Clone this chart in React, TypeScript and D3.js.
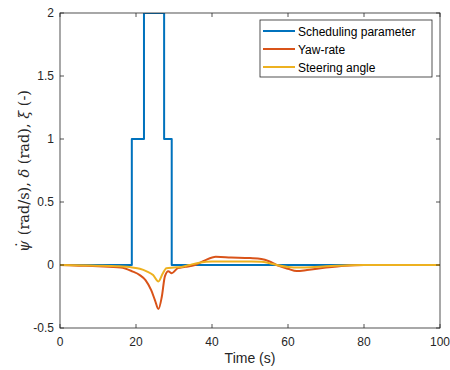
import React from "react";
import * as d3 from "d3";

const schedT = [0, 18.9, 22.1, 27.4, 29.4, 100];
const schedV = [0, 1, 2, 1, 0, 0];

const yawT = [0, 5, 10, 16, 19, 21, 22.5, 24, 25, 25.9, 26.8, 27.6, 28.5, 29.4, 31, 33, 35.5, 38, 41, 45, 50, 53, 55, 57, 60, 62.3, 65, 70, 75, 80, 90, 100];
const yawV = [0, -0.005, -0.01, -0.02, -0.05, -0.08, -0.12, -0.2, -0.28, -0.35, -0.25, -0.09, -0.05, -0.065, -0.025, -0.015, 0, 0.035, 0.065, 0.06, 0.055, 0.048, 0.03, 0, -0.03, -0.048, -0.04, -0.02, -0.005, 0, 0, 0];

const steerT = [0, 10, 15, 19, 21, 22.8, 24.5, 25.9, 27, 28, 30, 32, 34, 37, 40, 45, 50, 53, 55, 57, 60, 63, 66, 70, 75, 80, 100];
const steerV = [0, -0.005, -0.01, -0.02, -0.03, -0.05, -0.08, -0.13, -0.07, -0.025, -0.02, -0.015, 0, 0.02, 0.027, 0.028, 0.027, 0.025, 0.015, 0, -0.015, -0.02, -0.018, -0.01, -0.003, 0, 0];

const xTicks = [0, 20, 40, 60, 80, 100];
const yTicks = [-0.5, 0, 0.5, 1, 1.5, 2];
const seriesNames = ["Scheduling parameter", "Yaw-rate", "Steering angle"];
const colors = ["#0072BD", "#D95319", "#EDB120"];

export default function App() {
  const L = 60, R = 440, T = 13, B = 328;
  const x = d3.scaleLinear().domain([0, 100]).range([L, R]);
  const y = d3.scaleLinear().domain([-0.5, 2]).range([B, T]);
  const mk = (ts: number[], vs: number[]) => ts.map((t, i) => [t, vs[i]] as [number, number]);
  const stepLine = d3.line<[number, number]>().x(d => x(d[0])).y(d => y(d[1])).curve(d3.curveStepAfter);
  const smooth = d3.line<[number, number]>().x(d => x(d[0])).y(d => y(d[1])).curve(d3.curveMonotoneX);
  const tc = "#262626";
  const font = "Liberation Sans, Arial, sans-serif";
  return (
    <svg width={450} height={370} style={{ position: "absolute", left: 0, top: 0, background: "#fff" }}>
      <rect x={0} y={0} width={450} height={370} fill="#fff" />
      <defs>
        <clipPath id="cp"><rect x={L} y={T} width={R - L} height={B - T} /></clipPath>
      </defs>
      <g clipPath="url(#cp)" fill="none" strokeWidth={2} strokeLinejoin="round">
        <path d={stepLine(mk(schedT, schedV)) || ""} stroke={colors[0]} />
        <path d={smooth(mk(yawT, yawV)) || ""} stroke={colors[1]} />
        <path d={smooth(mk(steerT, steerV)) || ""} stroke={colors[2]} />
      </g>
      <rect x={L} y={T} width={R - L} height={B - T} fill="none" stroke={tc} strokeWidth={0.8} />
      {xTicks.map(t => (
        <g key={"x" + t}>
          <line x1={x(t)} x2={x(t)} y1={B} y2={B - 4} stroke={tc} strokeWidth={0.8} />
          <line x1={x(t)} x2={x(t)} y1={T} y2={T + 4} stroke={tc} strokeWidth={0.8} />
          <text x={x(t)} y={346} textAnchor="middle" fontFamily={font} fontSize={12} fill={tc}>{t}</text>
        </g>
      ))}
      {yTicks.map(t => (
        <g key={"y" + t}>
          <line x1={L} x2={L + 4} y1={y(t)} y2={y(t)} stroke={tc} strokeWidth={0.8} />
          <line x1={R} x2={R - 4} y1={y(t)} y2={y(t)} stroke={tc} strokeWidth={0.8} />
          <text x={54} y={y(t) + 4} textAnchor="end" fontFamily={font} fontSize={12} fill={tc}>{t}</text>
        </g>
      ))}
      <text x={250} y={363} textAnchor="middle" fontFamily={font} fontSize={14} fill={tc}>Time (s)</text>
      <text transform="translate(29,171) rotate(-90)" textAnchor="middle" fontFamily="DejaVu Serif, serif" fontSize={14.5} fill={tc}>
        <tspan fontStyle="italic">ψ</tspan><tspan dx={-7.5} dy={-2}>˙</tspan><tspan dx={1} dy={2}> (rad/s), </tspan><tspan fontStyle="italic">δ</tspan> (rad), <tspan fontStyle="italic">ξ</tspan> (-)
      </text>
      <rect x={260} y={20} width={172} height={57} fill="#fff" stroke={tc} strokeWidth={0.8} />
      {seriesNames.map((n, i) => (
        <g key={n}>
          <line x1={263} x2={295} y1={31 + i * 18} y2={31 + i * 18} stroke={colors[i]} strokeWidth={2} />
          <text x={298} y={35.5 + i * 18} fontFamily={font} fontSize={12} fill="#000">{n}</text>
        </g>
      ))}
    </svg>
  );
}
